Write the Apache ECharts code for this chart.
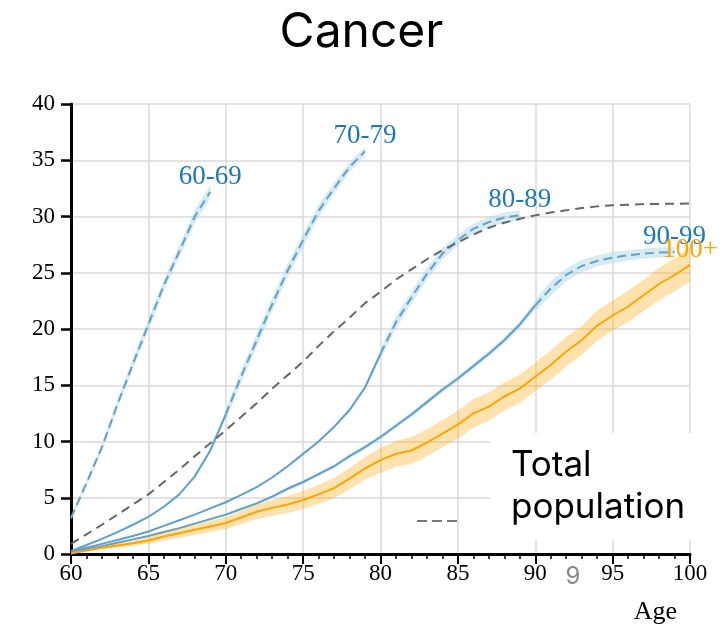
<!DOCTYPE html>
<html><head><meta charset="utf-8">
<script src="https://cdn.jsdelivr.net/npm/echarts@6/dist/echarts.min.js"></script>
<style>html,body{margin:0;padding:0;background:#fff}#c{width:723px;height:627px}</style>
</head><body><div id="c"></div>
<script>
// ---- data ----
const ages = [60,61,62,63,64,65,66,67,68,69,70,71,72,73,74,75,76,77,78,79,80,81,82,83,84,85,86,87,88,89,90,91,92,93,94,95,96,97,98,99,100];
const xTickLabels = [60,65,70,75,80,85,90,95,100];
const yTickLabels = [0,5,10,15,20,25,30,35,40];

// cohort 60-69 (ages 60..69, dashed)
const c6069 = [3.2,6.3,9.5,13.3,16.9,20.4,23.9,26.9,30.0,32.2];
const b6069 = [0.2,0.3,0.35,0.4,0.45,0.5,0.5,0.55,0.6,0.6];
// cohort 70-79: solid ages 60..70, dashed 70..79
const c7079s = [0.25,0.8,1.35,1.95,2.6,3.3,4.2,5.3,6.9,9.2,12.4];
const b7079s = [0,0,0,0,0,0.02,0.05,0.08,0.12,0.2,0.3];
const c7079d = [12.4,15.8,19.0,22.2,25.2,27.9,30.5,32.5,34.4,35.8];
const b7079d = [0.45,0.55,0.6,0.6,0.6,0.6,0.55,0.5,0.45,0.4];
// cohort 80-89: solid 60..80, dashed 80..89
const c8089s = [0.2,0.55,0.9,1.25,1.6,2.0,2.5,3.0,3.5,4.05,4.6,5.25,5.95,6.8,7.8,8.9,10.0,11.3,12.8,14.8,17.8];
const b8089s = [0,0,0,0,0,0,0,0,0,0,0.03,0.04,0.05,0.06,0.08,0.1,0.12,0.15,0.18,0.22,0.3];
const c8089d = [17.8,20.6,22.8,24.9,26.7,27.9,28.9,29.5,29.9,30.1];
const b8089d = [0.45,0.55,0.55,0.55,0.5,0.45,0.45,0.45,0.45,0.45];
// cohort 90-99: solid 60..90, dashed 90..99
const c9099s = [0.1,0.4,0.7,1.0,1.3,1.6,1.95,2.3,2.7,3.1,3.5,4.0,4.5,5.1,5.8,6.4,7.1,7.8,8.7,9.5,10.4,11.4,12.4,13.5,14.6,15.6,16.7,17.8,19.0,20.4,22.1];
const b9099s = [0.02,0.02,0.03,0.03,0.04,0.05,0.06,0.07,0.08,0.09,0.1,0.12,0.13,0.14,0.15,0.16,0.17,0.18,0.19,0.2,0.2,0.21,0.22,0.23,0.24,0.25,0.26,0.27,0.28,0.3,0.35];
const c9099d = [22.1,23.6,24.8,25.6,26.05,26.35,26.55,26.7,26.8,26.85];
const b9099d = [0.5,0.65,0.6,0.55,0.5,0.5,0.45,0.45,0.45,0.45];
// cohort 100+ (ages 60..100)
const c100 = [0.05,0.3,0.55,0.75,0.95,1.2,1.55,1.85,2.15,2.45,2.75,3.25,3.75,4.1,4.4,4.8,5.3,5.85,6.7,7.6,8.35,8.9,9.2,9.9,10.7,11.5,12.5,13.1,14.0,14.7,15.75,16.8,18.0,19.0,20.3,21.2,22.0,23.0,24.0,24.8,25.7];
const b100 = [0.03,0.08,0.13,0.18,0.23,0.3,0.35,0.4,0.45,0.5,0.55,0.6,0.65,0.7,0.75,0.8,0.85,0.9,0.95,1.0,1.1,1.15,1.2,1.2,1.2,1.25,1.25,1.25,1.25,1.25,1.25,1.3,1.3,1.3,1.35,1.35,1.4,1.4,1.45,1.45,1.5];
// total population (ages 60..100)
const total = [0.9,1.75,2.6,3.5,4.4,5.3,6.4,7.5,8.7,9.85,11.0,12.2,13.4,14.7,15.9,17.1,18.5,19.8,21.0,22.3,23.3,24.4,25.3,26.2,27.0,27.7,28.4,29.0,29.45,29.8,30.1,30.35,30.55,30.75,30.9,31.0,31.05,31.1,31.12,31.14,31.15];

// ---- styles ----
const BLUE_LINE = '#62a0ca';
const BLUE_TEXT = '#1f77b4';
const BLUE_BAND = 'rgba(173,216,230,0.5)';
const ORANGE = '#ffa500';
const ORANGE_BAND = 'rgba(255,165,0,0.32)';
const GREY = '#666666';
const SERIF = 'Liberation Serif';

function agesFrom(start, n){ const i = ages.indexOf(start); return ages.slice(i, i+n); }
function pairs(start, vals){ const a = agesFrom(start, vals.length); return vals.map((v,i)=>[a[i], v]); }
function band(start, vals, half, color, z){
  const a = agesFrom(start, vals.length);
  return {
    type:'custom', z, silent:true, clip:true, animation:false,
    data:[[a[0], vals[0]]],
    renderItem(params, api){
      const up = [], lo = [];
      vals.forEach((v,i)=>{ up.push(api.coord([a[i], v+half[i]])); lo.push(api.coord([a[i], v-half[i]])); });
      return {type:'polygon', shape:{points: up.concat(lo.reverse())}, style:{fill: color}};
    }
  };
}
function line(start, vals, color, dashed, z){
  return {type:'line', z, silent:true, animation:false, showSymbol:false, symbol:'none',
    data: pairs(start, vals),
    lineStyle:{color, width:2, type: dashed ? [9,5] : 'solid'}};
}
function last(arr){ return arr[arr.length-1]; }

const labelSeries = {
  type:'scatter', z:20, silent:true, animation:false, symbolSize:1,
  itemStyle:{color:'#ffffff', opacity:0},
  label:{show:true, position:'top', distance:1, fontFamily:SERIF, fontSize:27, opacity:1, textBorderWidth:0},
  data:[
    {value:[69, last(c6069)], label:{formatter:'60-69', color:BLUE_TEXT}},
    {value:[79, last(c7079d)], label:{formatter:'70-79', color:BLUE_TEXT}},
    {value:[89, last(c8089d)], label:{formatter:'80-89', color:BLUE_TEXT}},
    {value:[99, last(c9099d)], label:{formatter:'90-99', color:BLUE_TEXT}},
    {value:[100, last(c100)], label:{formatter:'100+', color:ORANGE}}
  ]
};

const chart = echarts.init(document.getElementById('c'), null, {renderer:'canvas'});
chart.setOption({
  animation:false,
  backgroundColor:'#fff',
  title:{text:'Cancer', left:'center', top:4, textStyle:{fontFamily:'Inter', fontSize:48, fontWeight:'normal', color:'#000'}},
  grid:{left:71, right:33, top:104, bottom:73, containLabel:false, outerBoundsMode:'none'},
  xAxis:{type:'value', min:60, max:100, interval:5,
    axisLine:{show:true, onZero:false, lineStyle:{color:'#000', width:3}},
    axisTick:{show:true, length:10, lineStyle:{color:'#000', width:2}},
    minorTick:{show:true, splitNumber:5, length:5, lineStyle:{color:'#000', width:1.5}},
    axisLabel:{margin:8, fontFamily:SERIF, fontSize:23, color:'#000',
      formatter:(v)=> xTickLabels.indexOf(v) >= 0 ? String(v) : ''},
    splitLine:{show:true, lineStyle:{color:'#dadada', width:1.5}}
  },
  yAxis:{type:'value', min:0, max:40, interval:5,
    axisLine:{show:true, onZero:false, lineStyle:{color:'#000', width:3}},
    axisTick:{show:true, length:10, lineStyle:{color:'#000', width:2.5}},
    axisLabel:{margin:16, fontFamily:SERIF, fontSize:23, color:'#000',
      formatter:(v)=> yTickLabels.indexOf(v) >= 0 ? String(v) : ''},
    splitLine:{show:true, lineStyle:{color:'#dadada', width:1.5}}
  },
  series:[
    band(60, c6069, b6069, BLUE_BAND, 1),
    band(60, c7079s, b7079s, BLUE_BAND, 1),
    band(70, c7079d, b7079d, BLUE_BAND, 1),
    band(60, c8089s, b8089s, BLUE_BAND, 1),
    band(80, c8089d, b8089d, BLUE_BAND, 1),
    band(60, c9099s, b9099s, BLUE_BAND, 1),
    band(90, c9099d, b9099d, BLUE_BAND, 1),
    line(60, c6069, BLUE_LINE, true, 3),
    line(60, c7079s, BLUE_LINE, false, 3),
    line(70, c7079d, BLUE_LINE, true, 3),
    line(60, c8089s, BLUE_LINE, false, 3),
    line(80, c8089d, BLUE_LINE, true, 3),
    line(60, c9099s, BLUE_LINE, false, 3),
    line(90, c9099d, BLUE_LINE, true, 3),
    band(60, c100, b100, ORANGE_BAND, 4),
    line(60, c100, ORANGE, false, 5),
    {type:'line', z:6, silent:true, animation:false, showSymbol:false, symbol:'none',
      data: pairs(60, total), lineStyle:{color:GREY, width:2, type:[9,6]}},
    labelSeries
  ],
  graphic:[
    {type:'rect', z:10, shape:{x:490, y:433, width:233, height:107}, style:{fill:'#fff'}},
    {type:'text', z:11, x:511, y:444, style:{text:'Total\npopulation', fontFamily:'Inter', fontSize:35, lineHeight:42, fill:'#000'}},
    {type:'line', z:11, shape:{x1:417, y1:521, x2:460, y2:521}, style:{stroke:'#777', lineWidth:2, lineDash:[10,5]}},
    {type:'text', z:11, x:573, y:577, style:{text:'9', fontFamily:'Inter', fontSize:24, fill:'#888', align:'center', verticalAlign:'middle'}},
    {type:'text', z:11, x:677, y:612, style:{text:'Age', fontFamily:SERIF, fontSize:26, fill:'#000', align:'right', verticalAlign:'middle'}}
  ]
});
</script>
</body></html>
